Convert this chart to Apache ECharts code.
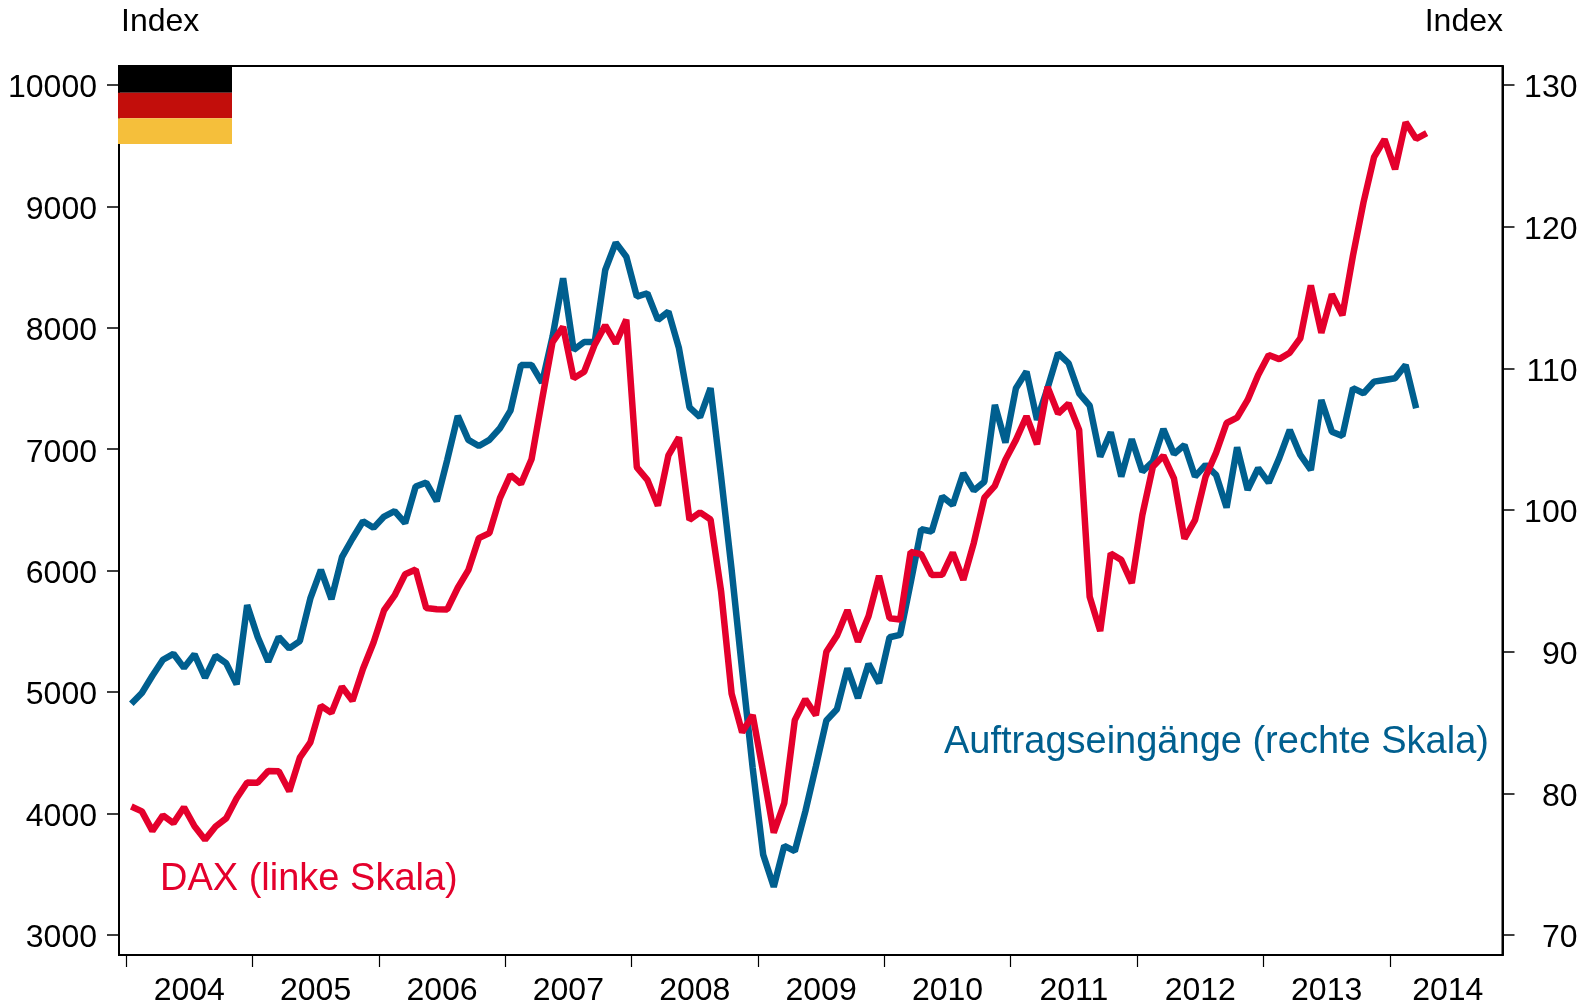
<!DOCTYPE html>
<html>
<head>
<meta charset="utf-8">
<style>html,body{margin:0;padding:0;background:#fff}#c{width:1595px;height:1005px}</style>
<script src="https://cdn.jsdelivr.net/npm/echarts@6/dist/echarts.min.js"></script>
</head>
<body>
<div id="c"></div>
<script>
// Monthly data from January 2004
const dax = [
4058,4018,3857,3985,3921,4052,3895,3785,3893,3960,4126,4256,
4254,4350,4348,4184,4460,4586,4887,4829,5044,4929,5193,5408,
5674,5796,5970,6009,5692,5683,5681,5859,6004,6268,6309,6597,
6789,6715,6917,7408,7883,8007,7584,7638,7861,8020,7871,8067,
6851,6748,6535,6949,7097,6418,6480,6422,5831,4988,4669,4810,
4338,3843,4085,4769,4941,4809,5332,5465,5675,5415,5625,5957,
5608,5598,6154,6136,5965,5966,6148,5925,6229,6601,6699,6914,
7077,7272,7041,7514,7294,7376,7159,5785,5502,6141,6089,5898,
6458,6856,6947,6761,6264,6416,6772,6970,7216,7260,7406,7612,
7776,7742,7795,7914,8349,7959,8276,8103,8594,9033,9405,9552,
9306,9692,9556,9603];
const orders = [
86.33,87.08,88.30,89.43,89.85,88.86,89.81,88.16,89.71,89.19,87.69,93.29,
91.03,89.29,91.03,90.23,90.75,93.76,95.78,93.71,96.67,97.99,99.21,98.74,
99.54,99.92,99.07,101.66,101.93,100.62,103.54,106.64,104.95,104.52,104.95,105.77,
107.01,110.24,110.24,108.99,112.24,116.36,111.30,111.86,111.86,116.94,118.87,117.88,
115.06,115.30,113.42,114.00,111.42,107.25,106.55,108.60,102.36,95.80,88.70,81.80,
75.66,73.40,76.30,75.92,78.72,81.89,85.14,85.94,88.83,86.72,89.14,87.78,
91.02,91.19,94.86,98.64,98.48,100.95,100.36,102.60,101.37,102.00,107.42,104.76,
108.60,109.77,106.36,108.60,111.07,110.36,108.24,107.37,103.77,105.49,102.36,105.00,
102.71,103.42,105.72,103.96,104.59,102.36,103.18,102.48,100.17,104.43,101.42,102.95,
101.93,103.66,105.65,103.89,102.83,107.77,105.53,105.23,108.60,108.24,109.06,109.18,
109.30,110.24,107.18];
const leftTicks = [3000,4000,5000,6000,7000,8000,9000,10000];
const rightTicks = [70,80,90,100,110,120,130];
const yearLabels = ['2004','2005','2006','2007','2008','2009','2010','2011','2012','2013','2014'];

const monthsPerYear = 12;
const xMin = -0.67, xMax = 130.7;
const yearTicks = yearLabels.map((_, i) => i * monthsPerYear);
const yearCentres = yearTicks.map((t, i) => i < yearTicks.length - 1 ? t + monthsPerYear / 2 : (t + xMax) / 2 + 0.15);
const pairs = arr => arr.map((v, i) => [i + 0.5, v]);

const RED = '#E4002C', BLUE = '#005F8F', INK = '#000';
const FONT = '"Liberation Sans", Arial, sans-serif';
const tickRich = {t: {color: '#000', fontFamily: FONT, fontSize: 32, padding: [7, 0, 0, 0]}};
const tickText = v => '{t|' + v + '}';

const chart = echarts.init(document.getElementById('c'), null, {renderer: 'canvas'});
const txt = (text, x, y, fill, size, align) => ({
  type: 'text', z: 50,
  style: {text, x, y, fill, align: align || 'left', verticalAlign: 'bottom', font: size + 'px ' + FONT}
});
chart.setOption({
  animation: false,
  backgroundColor: '#fff',
  grid: {left: 119, right: 92.5, top: 66, bottom: 50, outerBoundsMode: 'none', show: true, backgroundColor: 'transparent', borderColor: INK, borderWidth: 2},
  xAxis: {
    type: 'value', min: xMin, max: xMax, splitLine: {show: false},
    axisLine: {show: true, onZero: false, lineStyle: {color: INK, width: 2}},
    axisTick: {show: true, length: 12, customValues: yearTicks, lineStyle: {color: INK, width: 1.2}},
    axisLabel: {
      show: true, margin: 20, customValues: yearCentres, color: '#000', fontFamily: FONT, fontSize: 32, hideOverlap: false,
      formatter: v => yearLabels[yearCentres.indexOf(v)]
    }
  },
  yAxis: [
    {
      type: 'value', position: 'left', min: 2835, max: 10156, splitLine: {show: false},
      axisLine: {show: true, onZero: false, lineStyle: {color: INK, width: 2}},
      axisTick: {show: true, length: 12, customValues: leftTicks, lineStyle: {color: INK, width: 1.5}},
      axisLabel: {show: true, margin: 22, customValues: leftTicks, formatter: tickText, rich: tickRich}
    },
    {
      type: 'value', position: 'right', min: 68.59, max: 131.34, splitLine: {show: false},
      axisLine: {show: true, onZero: false, lineStyle: {color: INK, width: 2}},
      axisTick: {show: true, length: 12, customValues: rightTicks, lineStyle: {color: INK, width: 1.5}},
      axisLabel: {show: true, margin: 75, align: 'right', customValues: rightTicks, formatter: tickText, rich: tickRich}
    }
  ],
  series: [
    {name: 'Auftragseingänge (rechte Skala)', type: 'line', yAxisIndex: 1, data: pairs(orders), showSymbol: false, symbol: 'none', z: 3,
     lineStyle: {color: BLUE, width: 6.5, join: 'bevel', cap: 'butt'}},
    {name: 'DAX (linke Skala)', type: 'line', yAxisIndex: 0, data: pairs(dax), showSymbol: false, symbol: 'none', z: 4,
     lineStyle: {color: RED, width: 6.5, join: 'bevel', cap: 'butt'}}
  ],
  graphic: [
    {type: 'rect', z: 40, shape: {x: 118, y: 65.5, width: 114, height: 27.2}, style: {fill: '#000'}},
    {type: 'rect', z: 40, shape: {x: 118, y: 92.7, width: 114, height: 25.6}, style: {fill: '#C20E0B'}},
    {type: 'rect', z: 40, shape: {x: 118, y: 118.3, width: 114, height: 25.6}, style: {fill: '#F5BF3B'}},
    txt('Index', 121, 38, '#000', 32),
    txt('Index', 1503, 38, '#000', 32, 'right'),
    txt('DAX (linke Skala)', 160, 899, RED, 38),
    txt('Auftragseingänge (rechte Skala)', 944, 762, BLUE, 38)
  ]
});
</script>
</body>
</html>
